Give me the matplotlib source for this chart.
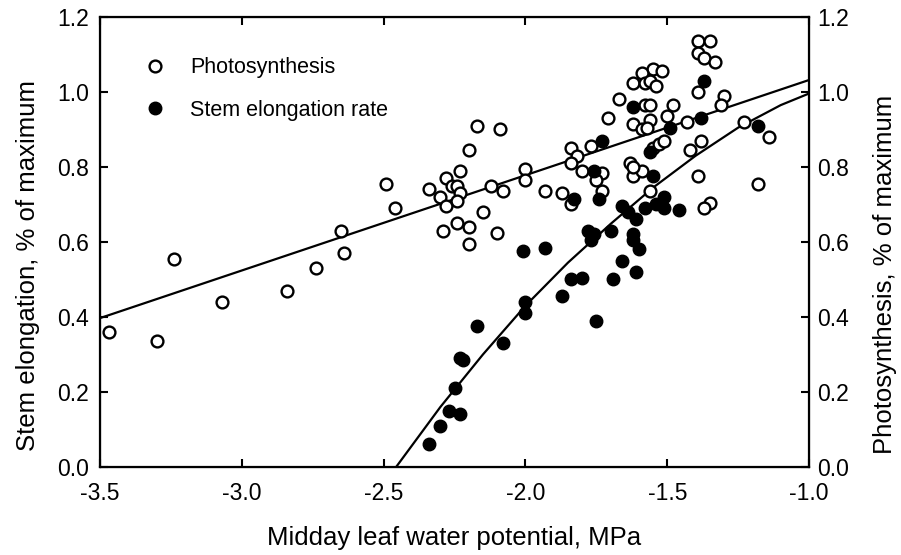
import matplotlib
matplotlib.use('Agg')
import matplotlib.pyplot as plt
from matplotlib.lines import Line2D

plt.rcParams['font.family'] = ['Liberation Sans', 'DejaVu Sans']

# Photosynthesis (open circles), x = leaf water potential (MPa), y = fraction of max
photo_x = [-3.47, -3.30, -3.24, -3.07, -2.84, -2.74, -2.64, -2.65, -2.49, -2.46,
           -2.17, -2.09, -2.20, -2.23, -2.28, -2.26, -2.24, -2.34, -2.30, -2.23,
           -2.24, -2.28, -2.12, -2.08, -2.15, -2.24, -2.20, -2.29, -2.10, -2.20,
           -2.00, -2.00, -1.93, -1.87, -1.84, -1.82, -1.84, -1.80, -1.73, -1.75,
           -1.73, -1.84, -1.77, -1.71, -1.67, -1.39, -1.35, -1.39, -1.37, -1.33,
           -1.39, -1.30, -1.31, -1.43, -1.50, -1.48, -1.55, -1.52, -1.59, -1.62,
           -1.58, -1.56, -1.54, -1.58, -1.56, -1.62, -1.59, -1.56, -1.57, -1.63,
           -1.62, -1.59, -1.56, -1.55, -1.53, -1.51, -1.42, -1.38, -1.39, -1.35,
           -1.37, -1.23, -1.14, -1.18, -1.62]
photo_y = [0.36, 0.335, 0.555, 0.44, 0.47, 0.53, 0.57, 0.63, 0.755, 0.69,
           0.91, 0.90, 0.845, 0.79, 0.77, 0.75, 0.75, 0.74, 0.72, 0.73,
           0.71, 0.695, 0.75, 0.735, 0.68, 0.65, 0.64, 0.63, 0.625, 0.595,
           0.795, 0.765, 0.735, 0.73, 0.85, 0.83, 0.81, 0.79, 0.785, 0.765,
           0.735, 0.70, 0.855, 0.93, 0.98, 1.135, 1.135, 1.105, 1.09, 1.08,
           1.00, 0.99, 0.965, 0.92, 0.935, 0.965, 1.06, 1.055, 1.05, 1.025,
           1.025, 1.03, 1.015, 0.965, 0.965, 0.915, 0.90, 0.925, 0.905, 0.81,
           0.775, 0.79, 0.735, 0.85, 0.86, 0.87, 0.845, 0.87, 0.775, 0.705,
           0.69, 0.92, 0.88, 0.755, 0.80]

# Stem elongation rate (filled circles)
stem_x = [-2.34, -2.30, -2.27, -2.23, -2.25, -2.23, -2.22, -2.17, -2.08, -2.00,
          -2.00, -1.87, -1.84, -1.80, -1.69, -1.66, -1.61, -1.75, -2.01, -1.93,
          -1.62, -1.60, -1.62, -1.78, -1.76, -1.77, -1.70, -1.66, -1.64, -1.58,
          -1.54, -1.51, -1.51, -1.46, -1.74, -1.83, -1.76, -1.55, -1.56, -1.73,
          -1.62, -1.49, -1.38, -1.37, -1.18, -1.61]
stem_y = [0.06, 0.11, 0.15, 0.14, 0.21, 0.29, 0.285, 0.375, 0.33, 0.44,
          0.41, 0.455, 0.50, 0.505, 0.50, 0.55, 0.52, 0.39, 0.575, 0.585,
          0.605, 0.58, 0.62, 0.63, 0.62, 0.605, 0.63, 0.695, 0.68, 0.69,
          0.70, 0.72, 0.69, 0.685, 0.715, 0.715, 0.79, 0.775, 0.84, 0.87,
          0.96, 0.905, 0.93, 1.03, 0.91, 0.66]

# fitted lines
photo_fit_x = [-3.5, -1.0]
photo_fit_y = [0.397, 1.032]
stem_fit_x = [-2.456, -2.30, -2.15, -2.00, -1.85, -1.70, -1.55, -1.40, -1.25, -1.10, -1.00]
stem_fit_y = [0.0, 0.16, 0.30, 0.43, 0.545, 0.648, 0.745, 0.83, 0.905, 0.965, 0.996]

xticks = [-3.5, -3.0, -2.5, -2.0, -1.5, -1.0]
yticks = [0.0, 0.2, 0.4, 0.6, 0.8, 1.0, 1.2]

fig = plt.figure(figsize=(9.01, 5.55), dpi=100)
ax = fig.add_axes([0.111, 0.1586, 0.787, 0.8108])

ax.plot(photo_fit_x, photo_fit_y, color='black', lw=1.6, zorder=2)
ax.plot(stem_fit_x, stem_fit_y, color='black', lw=1.6, zorder=2)
ax.plot(photo_x, photo_y, 'o', ms=8.5, mfc='white', mec='black', mew=1.7, zorder=3)
ax.plot(stem_x, stem_y, 'o', ms=9, mfc='black', mec='black', mew=1, zorder=4)

ax.set_xlim(-3.5, -1.0)
ax.set_ylim(0, 1.2)
ax.set_xticks(xticks)
ax.set_xticklabels(['%.1f' % v for v in xticks])
ax.set_yticks(yticks)
ax.set_yticklabels(['%.1f' % v for v in yticks])
ax.tick_params(direction='in', length=6, width=1.5, labelsize=16.5, top=True)
ax.tick_params(axis='x', pad=11)
ax.tick_params(axis='y', pad=8)
for s in ax.spines.values():
    s.set_linewidth(1.6)

ax2 = ax.twinx()
ax2.set_ylim(0, 1.2)
ax2.set_yticks(yticks)
ax2.set_yticklabels(['%.1f' % v for v in yticks])
ax2.tick_params(direction='in', length=6, width=1.5, labelsize=16.5, pad=6)

ax.set_xlabel('Midday leaf water potential, MPa', fontsize=18.5, labelpad=15)
ax.set_ylabel('Stem elongation, % of maximum', fontsize=18.5)
ax2.set_ylabel('Photosynthesis, % of maximum', fontsize=18.5)
ax.yaxis.set_label_coords(-0.085, 0.447)
ax2.yaxis.set_label_coords(1.09, 0.427)

handles = [
    Line2D([], [], marker='o', ls='none', ms=8.5, mfc='white', mec='black', mew=1.7),
    Line2D([], [], marker='o', ls='none', ms=9, mfc='black', mec='black'),
]
ax.legend(handles, ['Photosynthesis', 'Stem elongation rate'], loc='upper left',
          bbox_to_anchor=(0.063, 0.91), frameon=False, fontsize=15.5,
          borderaxespad=0, borderpad=0, handlelength=1.0,
          handletextpad=1.1, labelspacing=1.0)

plt.savefig('out.png', dpi=100, facecolor='white')
